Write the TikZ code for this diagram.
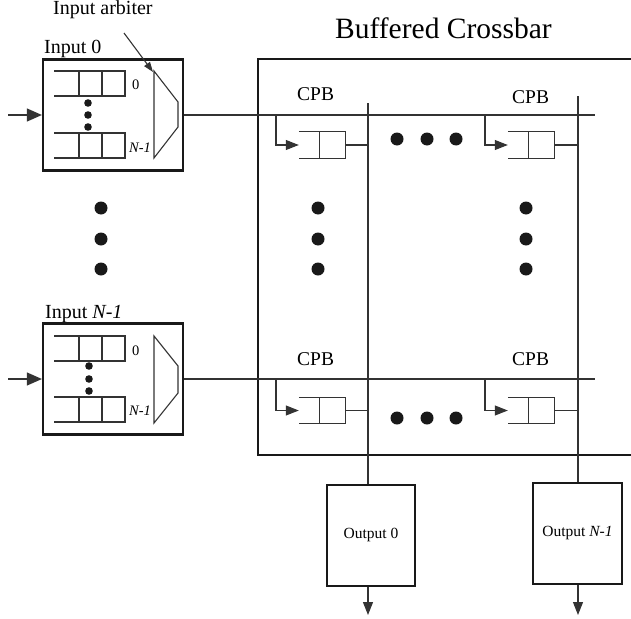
\documentclass[tikz,border=0pt]{standalone}
\usepackage{fontspec}
\setmainfont{Liberation Serif}
\usepackage{tikz}
\usetikzlibrary{arrows.meta,positioning}

\begin{document}
\begin{tikzpicture}[
    x=1pt, y=-1pt,
    qline/.style={draw=black!80, line width=1.1pt},
    inbox/.style={draw=black!90, line width=2.2pt, minimum width=140pt, minimum height=111pt, inner sep=0pt},
    outbox/.style={draw=black!90, line width=2pt, minimum width=88pt, minimum height=101pt, inner sep=0pt, font=\fontsize{15.5}{18}\selectfont},
    qbox/.style={minimum width=46pt, minimum height=26pt, inner sep=0pt},
    lbl/.style={font=\fontsize{20}{24}\selectfont, anchor=base west, inner sep=0pt},
    cpb/.style={font=\fontsize{19.5}{23}\selectfont, anchor=base west, inner sep=0pt},
    idx/.style={font=\fontsize{14.5}{17}\selectfont, anchor=base west, inner sep=0pt},
    dot/.style={fill=black!90},
    bigarr/.style={qline, -{Triangle[length=15pt, width=13pt]}},
    smallarr/.style={qline, -{Triangle[length=13pt, width=10pt]}}
  ]
    \useasboundingbox (0,0) rectangle (631,618);

    \node[lbl] (title) at (335,38) {\fontsize{29.5}{34}\selectfont Buffered Crossbar};
    \node[lbl] (arblbl) at (53,15) {Input arbiter};
    \node[lbl] (in0lbl) at (44,53) {Input 0};
    \node[lbl] (inNlbl) at (45,318) {Input \textit{N-1}};

    \node[inbox] (in0) at (113,115) {};
    \node[inbox] (inN) at (113,379) {};

    \foreach \y in {71,133,336,397} {
      \draw[qline] (54,\y) -- (125,\y) -- (125,\y+25) -- (54,\y+25)
                   (79,\y) -- (79,\y+25) (102,\y) -- (102,\y+25);
    }
    \node[idx] (l00) at (132,89) {0};
    \node[idx] (l0N) at (129,152) {\textit{N-1}};
    \node[idx] (lN0) at (132,355) {0};
    \node[idx] (lNN) at (129,415) {\textit{N-1}};

    \foreach \y in {103,115,127} \fill[dot] (88,\y) circle (3.8pt);
    \foreach \y in {366,379,391} \fill[dot] (89,\y) circle (3.8pt);

    \draw[qline] (154,71) -- (178,102) -- (178,127) -- (154,158) -- cycle;
    \draw[qline] (154,336) -- (178,366) -- (178,393) -- (154,423) -- cycle;

    \coordinate (arbtail) at (124,33);
    \coordinate (arbtip) at (153,72);
    \draw[qline, -{Triangle[length=10pt, width=7pt]}] (arbtail) -- (arbtip);

    \coordinate (src0) at (8,115);
    \coordinate (srcN) at (8,379);
    \draw[bigarr] (src0) -- (in0.west);
    \draw[bigarr] (srcN) -- (inN.west);

    \foreach \y in {208,239,269} {
      \fill[dot] (101,\y) circle (6.5pt);
      \fill[dot] (318,\y) circle (6.5pt);
      \fill[dot] (526,\y) circle (6.5pt);
    }

    \draw[draw=black!90, line width=2.4pt] (631,59) -- (258,59) -- (258,455) -- (631,455);

    \coordinate (r0end) at (595,115);
    \coordinate (rNend) at (595,379);
    \draw[qline] (in0.east) -- (r0end);
    \draw[qline] (inN.east) -- (rNend);

    \node[cpb] (cpb00) at (297,100) {CPB};
    \node[cpb] (cpb0N) at (512,103) {CPB};
    \node[cpb] (cpbN0) at (297,365) {CPB};
    \node[cpb] (cpbNN) at (512,365) {CPB};

    \node[outbox] (out0) at (371,535) {Output 0};
    \node[outbox, minimum width=89pt] (outN) at (577.5,533.5) {Output \textit{N-1}};

    \coordinate (col0) at (368,103);
    \coordinate (colN) at (578,96);
    \draw[qline] (col0) -- (col0 |- out0.north);
    \draw[qline] (colN) -- (colN |- outN.north);

    \coordinate (o0end) at (368,615);
    \coordinate (oNend) at (578,615);
    \draw[qline, -{Triangle[length=13pt, width=10pt]}] (out0.south -| o0end) -- (o0end);
    \draw[qline, -{Triangle[length=13pt, width=10pt]}] (outN.south -| oNend) -- (oNend);

    \node[qbox] (q00) at (322,145) {};
    \node[qbox] (q0N) at (531,145) {};
    \node[qbox] (qN0) at (322,410.5) {};
    \node[qbox] (qNN) at (531,410.5) {};

    \foreach \q in {q00,q0N,qN0,qNN} {
      \draw[qline] (\q.north west) -- (\q.north east) -- (\q.south east) -- (\q.south west);
      \draw[qline] ([xshift=-26pt]\q.north east) -- ([xshift=-26pt]\q.south east);
    }

    \coordinate (b00) at (276,115);
    \coordinate (b0N) at (485,115);
    \coordinate (bN0) at (276,379);
    \coordinate (bNN) at (485,379);
    \draw[smallarr] (b00) |- (q00.west);
    \draw[smallarr] (b0N) |- (q0N.west);
    \draw[smallarr] (bN0) |- (qN0.west);
    \draw[smallarr] (bNN) |- (qNN.west);

    \draw[qline] (q00.east) -- (q00.east -| col0);
    \draw[qline] (q0N.east) -- (q0N.east -| colN);
    \draw[qline] (qN0.east) -- (qN0.east -| col0);
    \draw[qline] (qNN.east) -- (qNN.east -| colN);

    \foreach \x in {397,427,456} {
      \fill[dot] (\x,139) circle (6.5pt);
      \fill[dot] (\x,418) circle (6.5pt);
    }
  \end{tikzpicture}
\end{document}
